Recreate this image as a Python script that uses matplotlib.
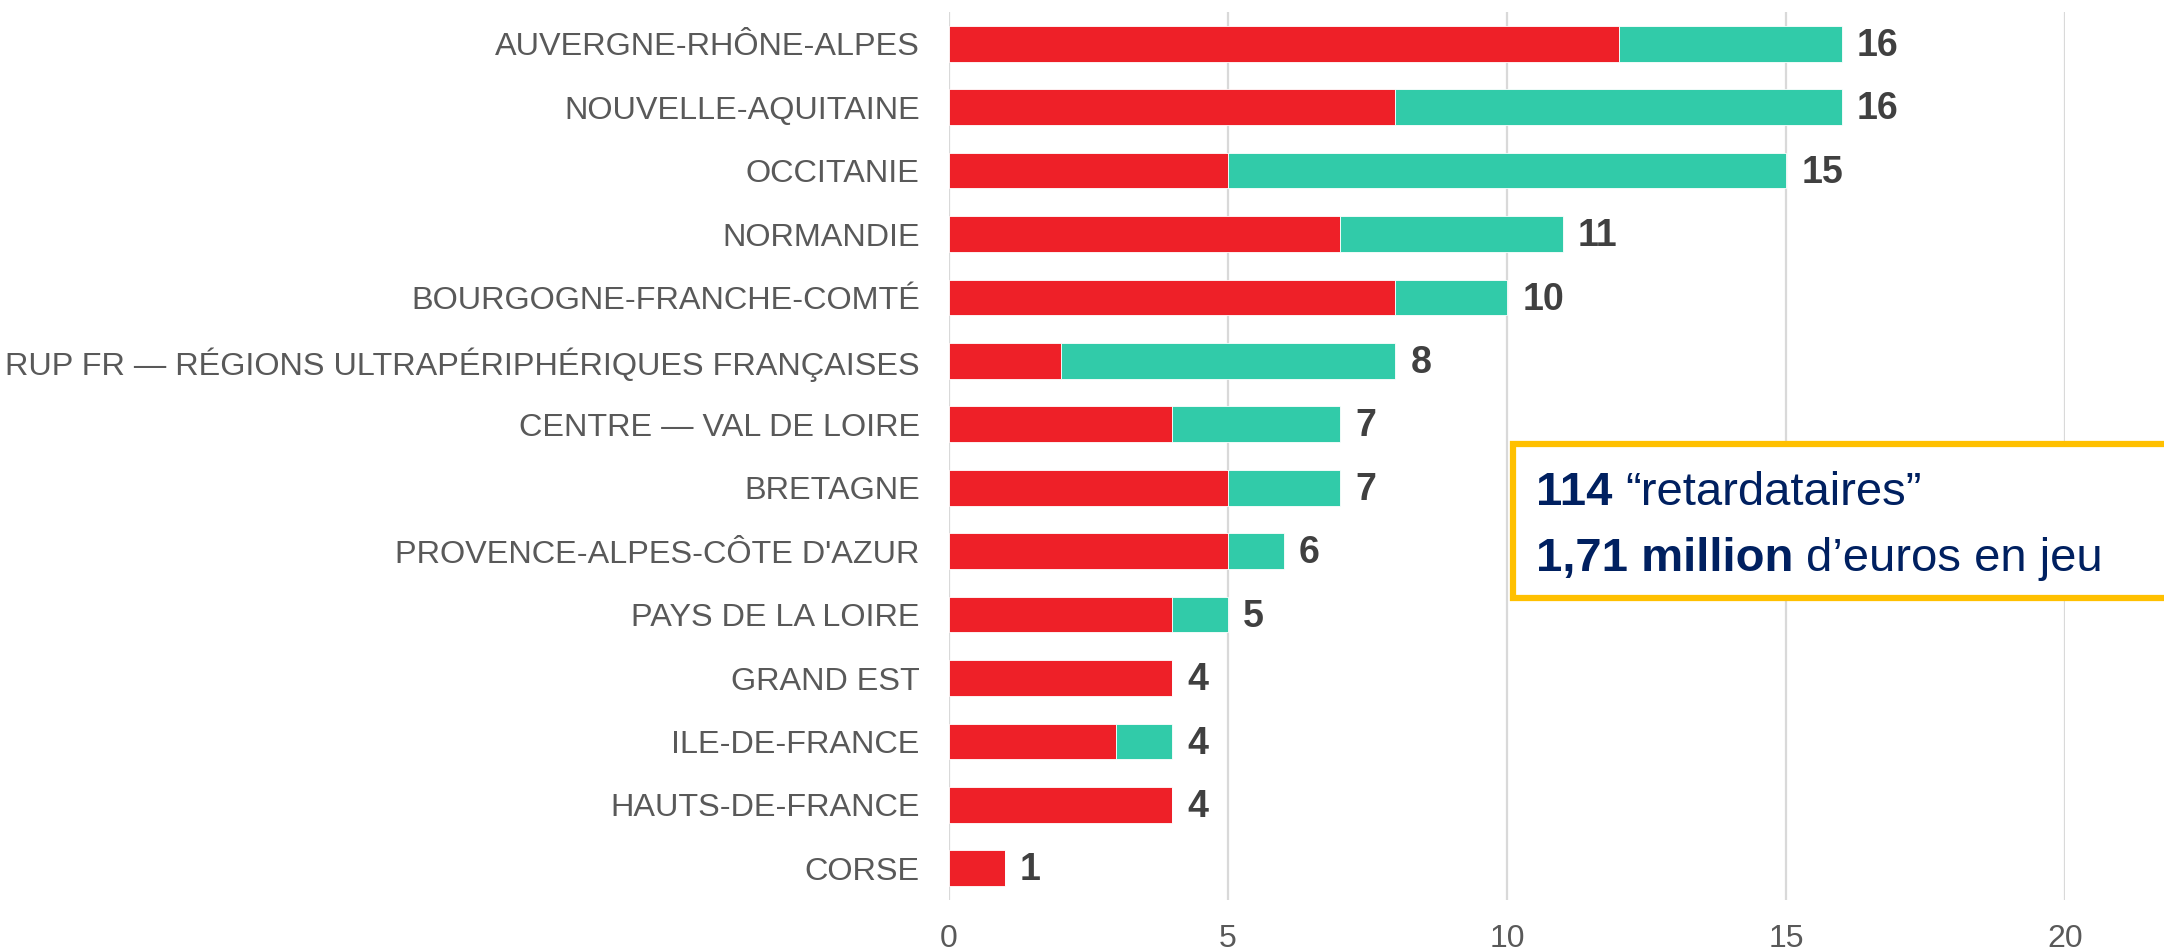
import matplotlib
matplotlib.use("Agg")
import matplotlib.pyplot as plt
from matplotlib.patches import Rectangle

regions = [
    "AUVERGNE-RHÔNE-ALPES",
    "NOUVELLE-AQUITAINE",
    "OCCITANIE",
    "NORMANDIE",
    "BOURGOGNE-FRANCHE-COMTÉ",
    "RUP FR — RÉGIONS ULTRAPÉRIPHÉRIQUES FRANÇAISES",
    "CENTRE — VAL DE LOIRE",
    "BRETAGNE",
    "PROVENCE-ALPES-CÔTE D'AZUR",
    "PAYS DE LA LOIRE",
    "GRAND EST",
    "ILE-DE-FRANCE",
    "HAUTS-DE-FRANCE",
    "CORSE",
]
red_values = [12, 8, 5, 7, 8, 2, 4, 5, 5, 4, 4, 3, 4, 1]
teal_values = [4, 8, 10, 4, 2, 6, 3, 2, 1, 1, 0, 1, 0, 0]
x_ticks = [0, 5, 10, 15, 20]

RED = "#EE2028"
TEAL = "#31CBA9"
GRAY = "#595959"
DARK = "#404040"
NAVY = "#002060"
GOLD = "#FFC000"

plt.rcParams["font.family"] = ["Liberation Sans", "DejaVu Sans"]

W, H = 2164, 952
fig = plt.figure(figsize=(W / 100, H / 100), dpi=100)
ax = fig.add_axes([949 / W, 1 - 900 / H, (2065 - 949) / W, (900 - 12) / H])

y = list(range(len(regions)))
bh = 0.565
ax.barh(y, red_values, height=bh, color=RED, edgecolor="white", linewidth=0.6, zorder=3)
ax.barh(y, teal_values, left=red_values, height=bh, color=TEAL, edgecolor="white", linewidth=0.6, zorder=3)

for yi, r, t in zip(y, red_values, teal_values):
    tot = r + t
    ax.annotate(str(tot), xy=(tot, yi), xytext=(11, -1.5), textcoords="offset points",
                va="center", ha="left", fontsize=27, fontweight="bold", color=DARK)

ax.set_ylim(len(regions) - 0.5, -0.5)
ax.set_xlim(0, 20)
ax.set_yticks(y)
ax.set_yticklabels(regions, fontsize=23.3, color=GRAY)
ax.set_xticks(x_ticks)
ax.set_xticklabels([str(v) for v in x_ticks], fontsize=23, color=GRAY)
ax.tick_params(axis="y", length=0, pad=21)
ax.tick_params(axis="x", length=0, pad=17)
ax.grid(axis="x", color="#D9D9D9", linewidth=1.6, zorder=0)
ax.set_axisbelow(True)
for s in ax.spines.values():
    s.set_visible(False)

# annotation box
bx0, by0, bx1, by1 = 1513, 444, 2200, 598
rect = Rectangle((bx0 / W, 1 - by1 / H), (bx1 - bx0) / W, (by1 - by0) / H,
                 transform=fig.transFigure, facecolor="white", edgecolor=GOLD,
                 linewidth=4.5, zorder=10, clip_on=False)
fig.add_artist(rect)

renderer = fig.canvas.get_renderer()

def rich_line(parts, x_px, y_px, size):
    x = x_px
    for txt, weight in parts:
        t = fig.text(x / W, 1 - y_px / H, txt, fontsize=size, fontweight=weight,
                     color=NAVY, ha="left", va="baseline", zorder=11)
        bb = t.get_window_extent(renderer=renderer)
        x += bb.width

rich_line([("114 ", "bold"), ("“retardataires”", "normal")], 1536, 505, 34)
rich_line([("1,71 million ", "bold"), ("d’euros en jeu", "normal")], 1536, 571, 34)

fig.savefig("out.png", dpi=100)
